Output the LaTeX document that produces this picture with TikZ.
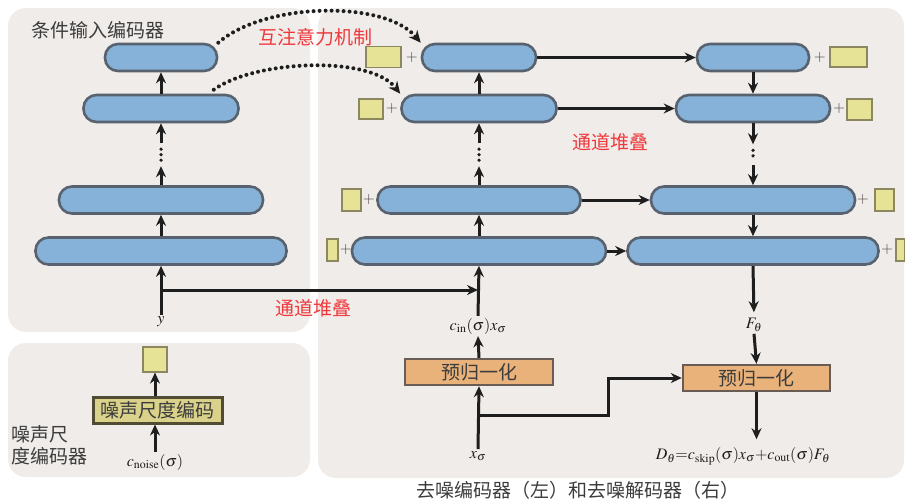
\documentclass[tikz,border=0pt]{standalone}
\usepackage{mathptmx}
\usepackage{fontspec}
\newfontfamily\cjk{Noto Sans CJK SC}
\usetikzlibrary{arrows.meta,calc}
\definecolor{cPanel}{RGB}{239,236,233}
\definecolor{cBlue}{RGB}{134,177,216}
\definecolor{cBlueB}{RGB}{88,98,110}
\definecolor{cYel}{RGB}{230,226,150}
\definecolor{cYelB}{RGB}{140,135,95}
\definecolor{cNoise}{RGB}{218,210,138}
\definecolor{cNoiseB}{RGB}{80,75,50}
\definecolor{cOr}{RGB}{233,178,122}
\definecolor{cOrB}{RGB}{105,92,85}
\definecolor{cRed}{RGB}{240,56,60}
\definecolor{cInk}{RGB}{30,30,30}
\definecolor{cTxt}{RGB}{60,60,60}
\newcommand\cjkf{\cjk\fontsize{19}{22}\selectfont}
\newcommand\mathf{\fontsize{16}{19}\selectfont}
\begin{document}
\begin{tikzpicture}[x=1pt,y=-1pt,
  panelbox/.style={fill=cPanel, rounded corners=18pt},
  blockstyle/.style={draw=cBlueB, fill=cBlue, line width=2.6pt, rounded corners=13pt, minimum height=27pt, inner sep=0pt},
  ysqstyle/.style={draw=cYelB, fill=cYel, line width=1.1pt, inner sep=0pt},
  plusstyle/.style={text=cTxt, font=\fontsize{16}{16}\selectfont, inner sep=0pt},
  prebox/.style={draw=cOrB, fill=cOr, line width=2.4pt, minimum height=26pt, inner sep=0pt, text=cTxt, font=\cjkf},
  noisebox/.style={draw=cNoiseB, fill=cNoise, line width=3pt, minimum height=26pt, inner sep=0pt, text=cTxt, font=\cjkf},
  txtlabel/.style={text=cTxt, font=\cjkf, inner sep=0pt, align=left},
  redlabel/.style={text=cRed, font=\cjkf, inner sep=0pt},
  mathlabel/.style={text=cInk, font=\mathf, inner sep=2pt},
  arr/.style={draw=cInk, line width=3pt, -{Stealth[length=11pt,width=10pt]}},
  dotline/.style={draw=cInk, line width=3.6pt, line cap=round, dash pattern=on 0pt off 5.5pt},
  dotarr/.style={draw=cInk, line width=4pt, line cap=round, dash pattern=on 0pt off 6pt, -{Stealth[length=12pt,width=11pt]}}
]
\useasboundingbox (0,0) rectangle (905,503);
% panels
\fill[panelbox] (8,8) rectangle (310,332);
\fill[panelbox] (8,343) rectangle (310,477);
\fill[panelbox] (318,8) rectangle (904,478);

% left conditional encoder
\node[txtlabel] (tEnc) at (98,30) {条件输入编码器};
\node[blockstyle, minimum width=112pt] (L1) at (161,57.5) {};
\node[blockstyle, minimum width=155pt] (L2) at (161,108.5) {};
\node[blockstyle, minimum width=204pt] (L3) at (161,200) {};
\node[blockstyle, minimum width=251pt] (L4) at (161,251) {};
\node[mathlabel] (ylab) at (161,322) {$y$};

\draw[arr] (ylab.north) -- (L4.south);
\draw[arr] (L4.north) -- (L3.south);
\draw[arr] (L3.north) -- ++(0,-19);
\draw[dotline] ($(L3.north)+(0,-25)$) -- ($(L2.south)+(0,24)$);
\draw[arr] ($(L2.south)+(0,20)$) -- (L2.south);
\draw[arr] (L2.north) -- (L1.south);

% right encoder (left column)
\node[blockstyle, minimum width=114pt] (E1) at (479,57.5) {};
\node[blockstyle, minimum width=155pt] (E2) at (479,108.5) {};
\node[blockstyle, minimum width=203pt] (E3) at (479,200) {};
\node[blockstyle, minimum width=254pt] (E4) at (479,251) {};

\node[ysqstyle, minimum width=35pt, minimum height=21pt] (sE1) at (383.5,57) {};
\node[plusstyle] (pE1) at (412,58) {+};
\node[ysqstyle, minimum width=24pt, minimum height=20pt] (sE2) at (371,109) {};
\node[plusstyle] (pE2) at (392,109) {+};
\node[ysqstyle, minimum width=19pt, minimum height=22pt] (sE3) at (351.5,200) {};
\node[plusstyle] (pE3) at (369,200) {+};
\node[ysqstyle, minimum width=11pt, minimum height=22pt] (sE4) at (332.5,250) {};
\node[plusstyle] (pE4) at (346,250) {+};

% decoder (right column)
\node[blockstyle, minimum width=112pt] (D1) at (753,57.5) {};
\node[blockstyle, minimum width=154pt] (D2) at (753,108.5) {};
\node[blockstyle, minimum width=204pt] (D3) at (753,200) {};
\node[blockstyle, minimum width=251pt] (D4) at (753,251) {};

\node[ysqstyle, minimum width=37pt, minimum height=20pt] (sD1) at (848.5,57) {};
\node[plusstyle] (pD1) at (820,58) {+};
\node[ysqstyle, minimum width=25pt, minimum height=21pt] (sD2) at (859.5,109.5) {};
\node[plusstyle] (pD2) at (839,109) {+};
\node[ysqstyle, minimum width=19pt, minimum height=22pt] (sD3) at (884.5,200) {};
\node[plusstyle] (pD3) at (863,200) {+};
\node[ysqstyle, minimum width=9pt, minimum height=22pt] (sD4) at (900.5,250) {};
\node[plusstyle] (pD4) at (887,250) {+};

% skip connections
\draw[arr] (E1.east) -- (D1.west);
\draw[arr] (E2.east) -- (D2.west);
\draw[arr] (E3.east) -- (D3.west);
\draw[arr] (E4.east) -- (D4.west);

% encoder up arrows
\draw[arr] (E4.north) -- (E3.south);
\draw[arr] (E3.north) -- ++(0,-19);
\draw[dotline] ($(E3.north)+(0,-25)$) -- ($(E2.south)+(0,24)$);
\draw[arr] ($(E2.south)+(0,20)$) -- (E2.south);
\draw[arr] (E2.north) -- (E1.south);

% decoder down arrows
\draw[arr] (D1.south) -- (D2.north);
\draw[arr] (D2.south) -- ++(0,21);
\draw[dotline] ($(D2.south)+(0,27)$) -- ($(D3.north)+(0,-24)$);
\draw[arr] ($(D3.north)+(0,-20)$) -- (D3.north);
\draw[arr] (D3.south) -- (D4.north);

% labels and preconditioning
\node[mathlabel] (cin) at (478,326) {$c_{\mathrm{in}}(\sigma)x_\sigma$};
\node[prebox, minimum width=148pt] (preL) at (479,372) {预归一化};
\node[mathlabel] (xs) at (478,456) {$x_\sigma$};
\node[mathlabel] (Ft) at (754,325) {$F_\theta$};
\node[prebox, minimum width=147pt] (preR) at (756.5,378) {预归一化};
\node[mathlabel] (Dt) at (743,456) {$D_\theta{=}c_{\mathrm{skip}}(\sigma)x_\sigma{+}c_{\mathrm{out}}(\sigma)F_\theta$};

\draw[arr] (cin.north) -- (E4.south);
\draw[arr] (preL.north) -- (cin.south);
\draw[arr] (xs.north) -- (preL.south);
\coordinate (xb) at (478,415);
\coordinate (xk) at (608,415);
\draw[arr] (xb) -- (xk) |- (preR.west);
\draw[arr, shorten >=4pt] (D4.south) -- (Ft.north);
\draw[arr] (Ft.south) -- (preR.north);
\draw[arr, shorten >=6pt] (preR.south) -- (preR.south |- Dt.north);

% channel stacking from y
\coordinate (yb) at (161,290);
\coordinate (cb) at (478,290);
\draw[arr] (yb) -- (cb);
\node[redlabel] (rs1) at (313,308) {通道堆叠};
\node[redlabel] (rs2) at (610,142) {通道堆叠};

% cross attention
\node[redlabel] (rca) at (315,37) {互注意力机制};
\draw[dotarr] (L1.north east) .. controls (265,2) and (385,0) .. (E1.north west);
\draw[dotarr] ($(L2.north east)+(-26,-4)$) .. controls (255,60) and (370,55) .. (E2.north west);

% noise encoder
\node[noisebox, minimum width=129pt] (nb) at (157.5,410) {噪声尺度编码};
\node[ysqstyle, minimum width=24pt, minimum height=25pt] (nsq) at (155,359.5) {};
\node[mathlabel] (cn) at (155,462) {$c_{\mathrm{noise}}(\sigma)$};
\draw[arr] (nb.north -| nsq) -- (nsq.south);
\draw[arr] (cn.north) -- (nb.south -| cn);
\node[txtlabel, anchor=west] (tNoise) at (11,445) {噪声尺\\度编码器};

% caption
\node[txtlabel] (cap) at (578,490) {去噪编码器（左）和去噪解码器（右）};
\end{tikzpicture}
\end{document}
